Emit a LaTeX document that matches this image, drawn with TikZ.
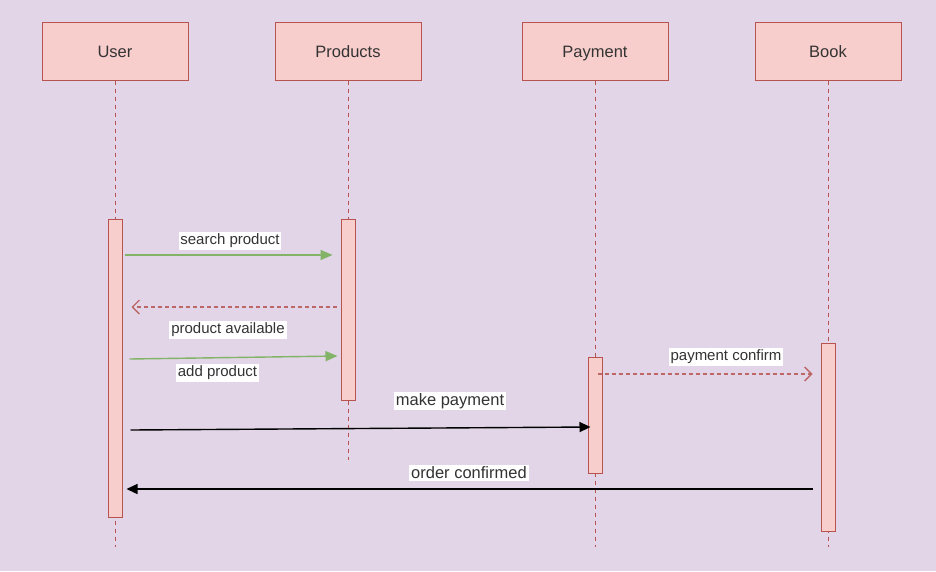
\documentclass[tikz,border=0pt]{standalone}
\usepackage{fontspec}
\setmainfont{Liberation Sans}
\usetikzlibrary{arrows.meta}
\definecolor{bgc}{HTML}{E1D5E7}
\definecolor{boxfill}{HTML}{F8CECC}
\definecolor{boxline}{HTML}{B85450}
\definecolor{msggreen}{HTML}{82B366}
\definecolor{txt}{HTML}{333333}
\tikzset{
  head/.style={draw=boxline, fill=boxfill, line width=1pt, minimum width=146pt, minimum height=58pt, inner sep=0pt, text=txt, text height=16pt, text depth=2.6pt, font=\fontsize{16.5}{18}\selectfont},
  act/.style={draw=boxline, fill=boxfill, line width=1pt, minimum width=14pt, inner sep=0pt},
  lifeline/.style={draw=boxline, line width=1pt, dash pattern=on 4pt off 4pt},
  greenmsg/.style={draw=msggreen, line width=1.4pt, -{Triangle[length=12pt,width=10pt]}},
  retmsg/.style={draw=boxline!85!bgc, line width=1.2pt, dash pattern=on 4pt off 3pt, -{Straight Barb[length=7pt,width=14pt,line width=1.3pt]}},
  blackmsg/.style={draw=black, line width=1.4pt, -{Triangle[length=11pt,width=10pt]}},
  smalllbl/.style={fill=white, text=txt, inner sep=1.8pt, font=\fontsize{15}{16}\selectfont},
  biglbl/.style={fill=white, text=txt, inner sep=1.8pt, font=\fontsize{16.5}{18}\selectfont}
}
\begin{document}
\begin{tikzpicture}[x=1pt, y=-1pt]
\fill[bgc] (0,0) rectangle (936,571);
\useasboundingbox (0,0) rectangle (936,571);
% heads
\node[head] (user) at (115,51) {User};
\node[head] (prod) at (348,51) {Products};
\node[head] (pay) at (595,51) {Payment};
\node[head] (book) at (828,51) {Book};
% lifeline ends
\coordinate (userend) at (115,547);
\coordinate (prodend) at (348,460);
\coordinate (payend) at (595,547);
\coordinate (bookend) at (828,547);
\draw[lifeline] (user.south) -- (userend);
\draw[lifeline] (prod.south) -- (prodend);
\draw[lifeline] (pay.south) -- (payend);
\draw[lifeline] (book.south) -- (bookend);
% activations
\node[act, minimum height=298pt] (uact) at (115,368) {};
\node[act, minimum height=181pt] (pact) at (348,309.5) {};
\node[act, minimum height=116pt] (payact) at (595,415) {};
\node[act, minimum height=188pt] (bact) at (828,437) {};
% messages
\draw[greenmsg] ([xshift=2pt]uact.east |- 0,255) -- ([xshift=-8pt]pact.west |- 0,255);
\node[smalllbl] (l1) at (230,241) {search product};
\draw[retmsg] ([xshift=-4pt]pact.west |- 0,307) -- ([xshift=9pt]uact.east |- 0,307);
\node[smalllbl] (l2) at (228,330) {product available};
\draw[greenmsg] ([xshift=7pt]uact.east |- 0,359) -- ([xshift=-3pt]pact.west |- 0,356);
\node[smalllbl] (l3) at (217.5,373) {add product};
\draw[retmsg] ([xshift=-5pt]payact.east |- 0,374) -- ([xshift=-8pt]bact.west |- 0,374);
\node[smalllbl] (l4) at (726,357) {payment confirm};
\draw[blackmsg] ([xshift=8pt]uact.east |- 0,430) -- ([xshift=3pt]payact.west |- 0,427);
\node[biglbl] (l5) at (450,401) {make payment};
\draw[blackmsg] ([xshift=-8pt]bact.west |- 0,489) -- ([xshift=4pt]uact.east |- 0,489);
\node[biglbl] (l6) at (469,473) {order confirmed};
\end{tikzpicture}
\end{document}
